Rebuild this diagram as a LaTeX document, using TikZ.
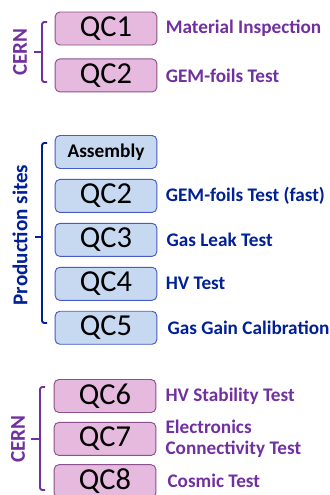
\documentclass[tikz,border=0pt]{standalone}
\usepackage{fontspec}
\setmainfont{Carlito}
\usetikzlibrary{positioning}
\definecolor{cernPurple}{RGB}{112,48,160}
\definecolor{cernFill}{RGB}{230,185,222}
\definecolor{cernEdge}{RGB}{140,80,140}
\definecolor{siteBlue}{RGB}{0,32,150}
\definecolor{siteFill}{RGB}{198,217,241}
\definecolor{siteEdge}{RGB}{70,90,200}

\begin{document}
\begin{tikzpicture}[
  x=0.03cm, y=-0.03cm,
  qcbox/.style={draw, rounded corners=4pt, minimum width=3.05cm,
                minimum height=0.99cm, inner sep=0pt, line width=0.8pt,
                font=\fontsize{26}{28}\selectfont},
  cbox/.style={qcbox, fill=cernFill, draw=cernEdge},
  pbox/.style={qcbox, fill=siteFill, draw=siteEdge},
  tlabel/.style={font=\fontsize{16.4}{18}\selectfont\bfseries, inner sep=0pt,
                 align=left},
  side/.style={font=\fontsize{18}{20}\selectfont\bfseries, inner sep=0pt,
               rotate=90},
  brace/.style={line width=1.6pt, rounded corners=2pt},
]
\useasboundingbox (0,0) rectangle (329,495);

% CERN, first part
\node[cbox] (qc1) at (106,28.5) {QC1};
\node[cbox, below=0.39cm of qc1] (qc2a) {QC2};
\node[tlabel, text=cernPurple, right=0.25cm of qc1] (lab1) {Material Inspection};
\node[tlabel, text=cernPurple, right=0.25cm of qc2a] (lab2a) {GEM-foils Test};

\draw[brace, cernPurple] (47,22) -- (42,22) -- (42,82) -- (47,82);
\draw[brace, cernPurple] (42,52) -- (34,52);
\node[side, text=cernPurple] (cern1) at (20,52) {CERN};

% Production sites
\node[pbox, font=\fontsize{16.5}{18}\selectfont\bfseries] (asm) at (106,152) {Assembly};
\node[pbox, below=0.3cm of asm] (qc2b) {QC2};
\node[pbox, below=0.3cm of qc2b] (qc3) {QC3};
\node[pbox, below=0.3cm of qc3] (qc4) {QC4};
\node[pbox, below=0.3cm of qc4] (qc5) {QC5};
\node[tlabel, text=siteBlue, right=0.25cm of qc2b] (lab2b) {GEM-foils Test (fast)};
\node[tlabel, text=siteBlue, right=0.27cm of qc3] (lab3) {Gas Leak Test};
\node[tlabel, text=siteBlue, right=0.25cm of qc4] (lab4) {HV Test};
\node[tlabel, text=siteBlue, right=0.3cm of qc5] (lab5) {Gas Gain Calibration};

\draw[brace, siteBlue] (47,143) -- (42,143) -- (42,323) -- (47,323);
\draw[brace, siteBlue] (42,237) -- (35,237);
\node[side, text=siteBlue] (sites) at (20,235) {Production sites};

% CERN, last part
\node[cbox] (qc6) at (105,396) {QC6};
\node[cbox, below=0.27cm of qc6] (qc7) {QC7};
\node[cbox, below=0.25cm of qc7] (qc8) {QC8};
\node[tlabel, text=cernPurple, right=0.27cm of qc6] (lab6) {HV Stability Test};
\node[tlabel, text=cernPurple, right=0.27cm of qc7] (lab7) {Electronics\\Connectivity Test};
\node[tlabel, text=cernPurple, right=0.33cm of qc8] (lab8) {Cosmic Test};

\draw[brace, cernPurple] (45,387) -- (40,387) -- (40,490) -- (45,490);
\draw[brace, cernPurple] (40,439) -- (31,439);
\node[side, text=cernPurple] (cern2) at (18,439) {CERN};
\end{tikzpicture}
\end{document}
